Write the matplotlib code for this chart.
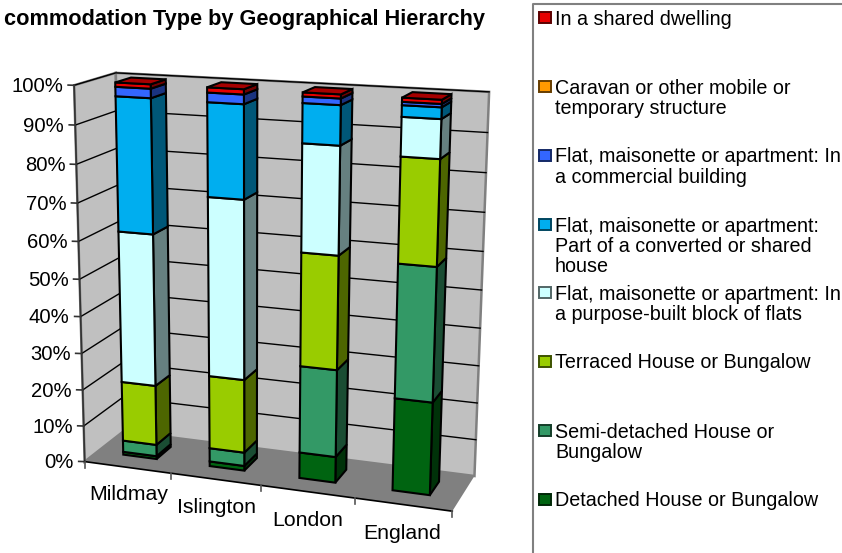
import numpy as np
import matplotlib
matplotlib.use('Agg')
import matplotlib.pyplot as plt
from matplotlib.patches import Polygon, Rectangle

plt.rcParams['font.family'] = ['Liberation Sans', 'DejaVu Sans']

categories = ['Mildmay', 'Islington', 'London', 'England']
series_names = ['Detached House or Bungalow', 'Semi-detached House or\nBungalow',
                'Terraced House or Bungalow',
                'Flat, maisonette or apartment: In\na purpose-built block of flats',
                'Flat, maisonette or apartment:\nPart of a converted or shared\nhouse',
                'Flat, maisonette or apartment: In\na commercial building',
                'Caravan or other mobile or\ntemporary structure',
                'In a shared dwelling']
detached = [0.8, 1.3, 7.0, 24.6]
semi = [3.2, 3.7, 23.3, 34.7]
terraced = [16.5, 19.9, 29.7, 26.5]
purpose_built = [40.9, 47.4, 27.5, 9.6]
converted = [35.1, 24.0, 9.9, 2.8]
commercial = [2.4, 2.4, 1.6, 0.8]
caravan = [0.0, 0.0, 0.0, 0.0]
shared = [1.1, 1.3, 1.0, 1.0]
series = [detached, semi, terraced, purpose_built, converted, commercial, caravan, shared]
colors = ['#006411', '#339966', '#99CC00', '#CCFFFF', '#00AEEF', '#3366FF', '#FF9900', '#E60000']
yticks = list(range(0, 101, 10))

# control points of the 3d box: (category position, percent, depth) -> pixel
ctrl_xyz = np.array([[0, 0, 0], [4, 0, 0], [0, 0, 1], [4, 0, 1], [0, 100, 0], [0, 100, 1], [4, 100, 1],
                     [1, 0, 0], [2, 0, 0], [3, 0, 0]], float)
ctrl_px = np.array([[86, 461], [452, 512], [122, 432], [475, 475], [73, 85], [117, 73], [489, 92],
                    [172, 473], [261, 486], [355, 498]], float)
A = []
b = []
for (x, y, z), (u, v) in zip(ctrl_xyz, ctrl_px):
    A.append([x, y, z, 1, 0, 0, 0, 0, -u*x, -u*y, -u*z])
    b.append(u)
    A.append([0, 0, 0, 0, x, y, z, 1, -v*x, -v*y, -v*z])
    b.append(v)
P = np.append(np.linalg.lstsq(np.array(A), np.array(b), rcond=None)[0], 1).reshape(3, 4)


def proj(x, y, z):
    p = P @ np.array([x, y, z, 1.0])
    return p[0]/p[2], p[1]/p[2]


def dark(c, f):
    return tuple(np.array(matplotlib.colors.to_rgb(c))*f)


fig = plt.figure(figsize=(8.42, 5.53), dpi=100)
ax = fig.add_axes([0, 0, 1, 1])
ax.set_xlim(0, 842)
ax.set_ylim(553, 0)
ax.axis('off')


def face(pts, fc, ec='k', lw=1.5, zo=2):
    ax.add_patch(Polygon([proj(*p) for p in pts], closed=True, fc=fc, ec=ec, lw=lw, zorder=zo, joinstyle='miter'))


# walls and floor
face([(0, 0, 0), (0, 0, 1), (0, 100, 1), (0, 100, 0)], '#C0C0C0', '#808080', 1.8, 1)
face([(0, 0, 1), (4, 0, 1), (4, 100, 1), (0, 100, 1)], '#C0C0C0', '#808080', 1.8, 1)
face([(0, 0, 0), (4, 0, 0), (4, 0, 1), (0, 0, 1)], '#808080', 'none', 0, 1)
for t in yticks:
    a, b_, c = proj(0, t, 0), proj(0, t, 1), proj(4, t, 1)
    if t > 0:
        ax.plot([a[0], b_[0], c[0]], [a[1], b_[1], c[1]], color='k', lw=1, zorder=1.5)
    ax.plot([a[0]-6, a[0]], [a[1]-0.2, a[1]], color='#333333', lw=1.2, zorder=1.5)
    ax.text(a[0]-11, a[1]+1, f'{t}%', ha='right', va='center', fontsize=14.6, color='k')
l0, l1 = proj(0, 0, 0), proj(0, 100, 0)
ax.plot([l0[0], l1[0]], [l0[1], l1[1]], color='#333333', lw=1.2, zorder=1.6)
f0, f1 = proj(0, 0, 0), proj(4, 0, 0)
ax.plot([f0[0], f1[0]], [f0[1], f1[1]], color='k', lw=1.2, zorder=1.6)
for i in range(5):
    p = proj(i, 0, 0)
    ax.plot([p[0], p[0]], [p[1], p[1]+6], color='#555555', lw=1.2, zorder=1.6)

# stacked bars, far side first
w0, w1 = 0.30, 0.69
d0, d1 = 0.33, 0.72
label_offsets = [(1, 27), (0, 28), (0, 29), (-1, 29)]
for i in range(4):
    base = 0.0
    x0, x1 = i+w0, i+w1
    for vals, col in zip(series, colors):
        v = vals[i]
        if v == 0:
            continue
        top = base+v
        zo = 3
        face([(x1, base, d0), (x1, base, d1), (x1, top, d1), (x1, top, d0)], dark(col, 0.5), zo=zo)
        face([(x0, base, d0), (x1, base, d0), (x1, top, d0), (x0, top, d0)], col, zo=zo)
        base = top
    face([(x0, base, d0), (x1, base, d0), (x1, base, d1), (x0, base, d1)], dark(colors[-1], 0.72), zo=3)
    p = proj(i+0.5, 0, 0)
    ax.text(p[0]+label_offsets[i][0], p[1]+label_offsets[i][1], categories[i], ha='center', va='center', fontsize=15.3)

ax.text(485, 19, 'commodation Type by Geographical Hierarchy', ha='right', va='center', fontsize=15.65, fontweight='bold')

# legend box runs off the right and bottom of the page
ax.plot([842, 533, 533], [3.5, 3.5, 553], color='#808080', lw=1.5, zorder=4)
swatch_y = [17.5, 86, 155, 224, 292, 361, 430, 499]
for name, col, y in zip(series_names[::-1], colors[::-1], swatch_y):
    ax.add_patch(Rectangle((538.5, y-5.5), 12, 11, fc=col, ec=dark(col, 0.4), lw=1.4, zorder=4))
    ax.text(555, y-7.5, name, ha='left', va='top', fontsize=14.2, linespacing=1.08, zorder=4)

fig.savefig('out.png', dpi=100)
